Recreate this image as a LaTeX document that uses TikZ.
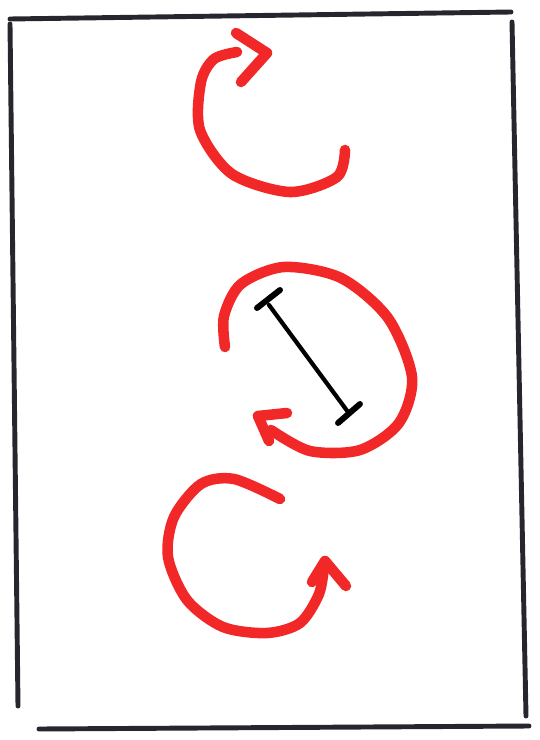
\documentclass[tikz,border=0pt]{standalone}
\definecolor{marker}{RGB}{242,40,40}
\definecolor{ink}{RGB}{38,38,46}
\begin{document}
\begin{tikzpicture}[x=0.02cm, y=-0.02cm,
  frame/.style={line width=2.8pt, ink, line cap=round},
  swirl/.style={line width=6pt, marker, line cap=round, line join=round},
  beam/.style={line width=2.4pt, black, line cap=round}]
  \useasboundingbox (0,0) rectangle (540,740);
  % Frame.
  \draw[frame] (10,19) -- (511,12);
  \draw[frame] (512,22) -- (526,716);
  \draw[frame] (39,729) -- (529,726);
  \draw[frame] (10,24) -- (18,706);
  % Top arrow.
  \draw[swirl] plot[smooth] coordinates {(345,150) (337,177) (290,192) (232,174)
    (200,130) (201,82) (214,59) (237,52)};
  \draw[swirl] (236,33) -- (267,53) -- (241,82);
  % Middle arrow.
  \draw[swirl] plot[smooth] coordinates {(225,347) (224,316) (241,284) (284,267)
    (341,278) (388,318) (412,377) (399,423) (360,450) (310,451) (271,430)};
  \draw[swirl] (287,413) -- (258,416) -- (269,441);
  % Segment.
  \coordinate (p) at (269,305);
  \coordinate (q) at (348,412);
  \draw[beam] (p) -- (q);
  \draw[beam, line width=3.4pt] (257,308) -- (280,290);
  \draw[beam, line width=3.4pt] (338,423) -- (360,404);
  % Bottom arrow.
  \draw[swirl] plot[smooth] coordinates {(280,499) (234,479) (201,484) (174,517)
    (168,557) (187,600) (223,627) (267,633) (300,623) (319,594) (324,566)};
  \draw[swirl] (312,582) -- (325,561) -- (346,586);
\end{tikzpicture}
\end{document}
